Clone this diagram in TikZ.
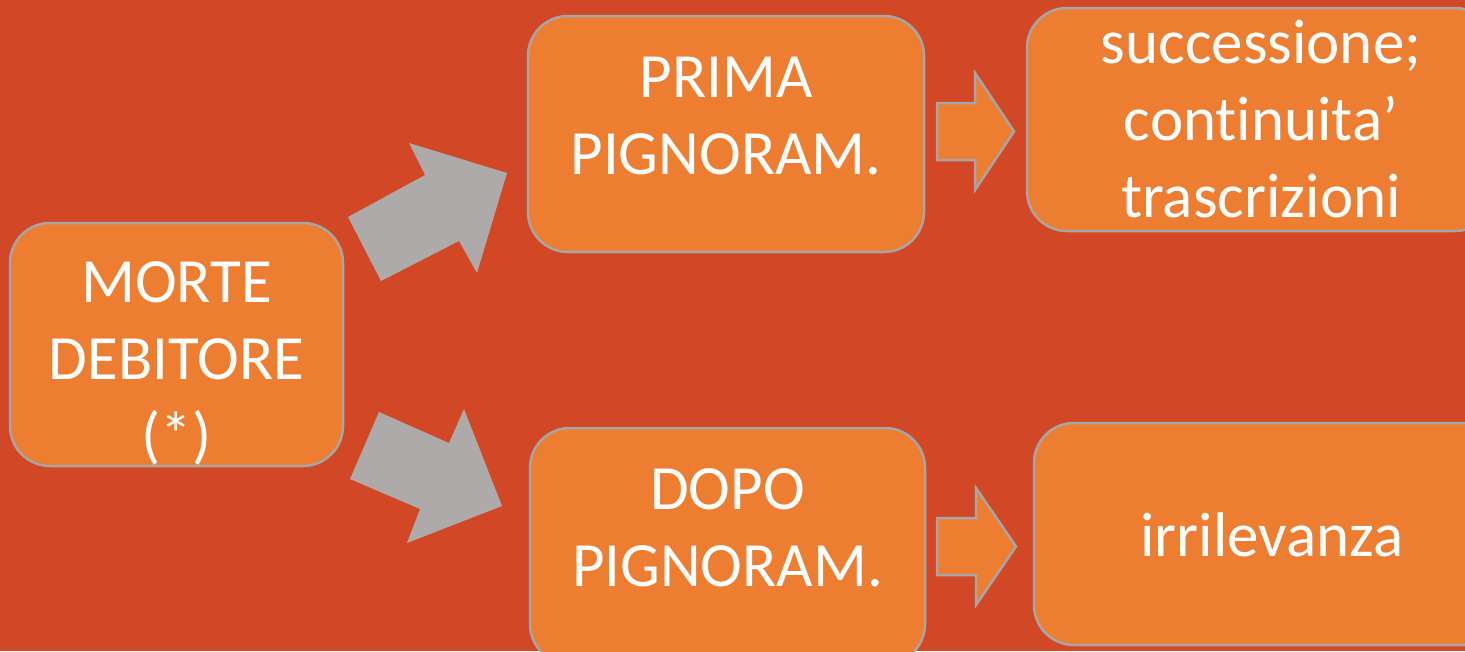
\documentclass[tikz,border=0pt]{standalone}
\usepackage{fontspec}
\setmainfont{Carlito}[Ligatures=NoCommon]
\usepackage{xcolor}

\definecolor{backred}{RGB}{210,71,38}
\definecolor{boxorange}{RGB}{237,125,49}
\definecolor{rimgray}{RGB}{168,165,165}
\definecolor{arrowgray}{RGB}{174,170,170}

\tikzset{
  box/.style={rounded corners=40pt,draw=rimgray,line width=2.5pt,fill=boxorange,
    text=white,font=\fontsize{63}{77}\selectfont,align=center,inner sep=0pt,
    text depth=15pt},
  bigarrow/.style={fill=arrowgray},
  smallarrow/.style={draw=rimgray,line width=2.5pt,fill=boxorange,line join=miter}
}

\begin{document}
\begin{tikzpicture}[x=1pt,y=-1pt]

\useasboundingbox (0,0) rectangle (1465,651) ;
\clip (0,0) rectangle (1465,651) ;
\fill [backred] (0,0) rectangle (1465,651) ;

%left box
\node [box,minimum width=333pt,minimum height=243pt,text height=223pt,text depth=0pt] (morte) at (176.5,344.5) {MORTE\\DEBITORE\\(*)} ;

%middle boxes
\node [box,minimum width=396pt,minimum height=236pt,text height=95pt] (prima) at (726,134) {PRIMA\\PIGNORAM.} ;
\node [box,minimum width=395pt,minimum height=236pt,text height=95pt] (dopo) at (727.5,546) {DOPO\\PIGNORAM.} ;

%right boxes
\node [box,minimum width=468pt,minimum height=223pt,text height=200pt,text depth=5pt] (succ) at (1261,119.5) {successione;\\continuita’\\trascrizioni} ;
\node [box,minimum width=476pt,minimum height=222pt,text height=59pt] (irril) at (1272,534) {irrilevanza} ;

%gray arrows
\fill [bigarrow] (348,217) -- (425,175) -- (409,143) -- (507,173) -- (477,273) -- (459,241) -- (381,281) -- cycle ;
\fill [bigarrow] (379,412) -- (449,443) -- (464,409) -- (502,506) -- (407,543) -- (420,509) -- (350,479) -- cycle ;

%small arrows
\draw [smallarrow,shift={(937,131.5)}] (0,-28.5) -- (38,-28.5) -- (38,-58.5) -- (77,0) -- (38,58.5) -- (38,28.5) -- (0,28.5) -- cycle ;
\draw [smallarrow,shift={(937,546.5)}] (0,-28.5) -- (39,-28.5) -- (39,-58.5) -- (79,0) -- (39,58.5) -- (39,28.5) -- (0,28.5) -- cycle ;

\end{tikzpicture}
\end{document}
